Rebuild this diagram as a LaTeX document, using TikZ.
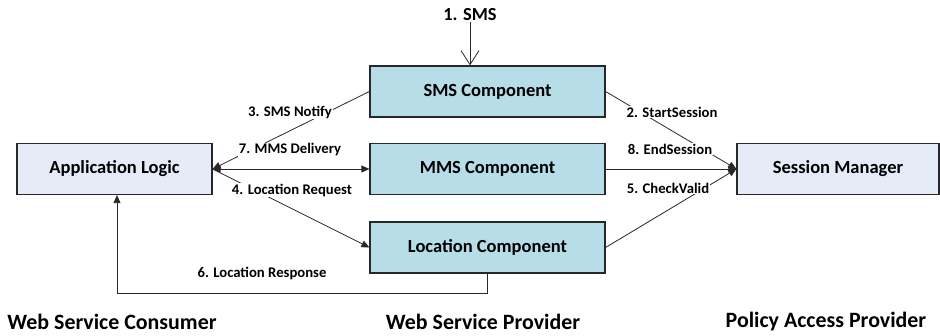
\documentclass[tikz,border=0pt]{standalone}
\usepackage{fontspec}
\setmainfont{Carlito}
\usetikzlibrary{arrows.meta}
\definecolor{compfill}{RGB}{183,221,232}
\definecolor{partyfill}{RGB}{230,236,247}
\definecolor{edgegray}{RGB}{40,40,40}
\tikzset{
  boxbase/.style={draw=edgegray, line width=1.2pt, minimum height=51pt, inner sep=0pt,
    font=\fontsize{18.5}{20}\selectfont\bfseries},
  compbox/.style={boxbase, fill=compfill, minimum width=235pt},
  partybox/.style={boxbase, fill=partyfill},
  msglabel/.style={fill=white, inner sep=1pt, font=\fontsize{14.7}{16}\selectfont\bfseries},
  rolelabel/.style={font=\fontsize{21.9}{24}\selectfont\bfseries},
  conn/.style={draw=edgegray, line width=0.8pt},
  tip/.style={-{Triangle[length=8pt,width=7pt]}},
}
\begin{document}
\begin{tikzpicture}[x=1pt, y=-1pt]
  \useasboundingbox (0,0) rectangle (940,336);

  % parties and components
  \node[partybox, minimum width=195pt] (app) at (114.5,169) {Application Logic};
  \node[compbox] (sms) at (487.5,91.5) {SMS Component};
  \node[compbox] (mms) at (487.5,169) {MMS Component};
  \node[compbox] (loc) at (487.5,247.5) {Location Component};
  \node[partybox, minimum width=202pt] (sess) at (838,169) {Session Manager};

  % incoming SMS
  \node[font=\fontsize{18.4}{20}\selectfont\bfseries, inner sep=1pt] (in) at (470,15) {1. SMS};
  \draw[conn, -{Straight Barb[length=14pt,width=18pt,line width=0.8pt]}] (in.south) -- (sms.north -| in.south);

  % component to application logic
  \draw[conn, tip] (sms.west) -- (app.east);
  \draw[conn, {Triangle[length=8pt,width=7pt]}-{Triangle[length=8pt,width=7pt]}] (app.east) -- (mms.west);
  \draw[conn, tip] (app.east) -- (loc.west);
  \coordinate (lr1) at ([yshift=-20pt]loc.south);
  \coordinate (lr2) at ([xshift=2.5pt]app.south);
  \draw[conn, tip] (loc.south) -- (lr1) -- (lr1 -| lr2) -- (lr2);

  % components to session manager
  \draw[conn, tip] (sms.east) -- (sess.west);
  \draw[conn, tip] (mms.east) -- (sess.west);
  \draw[conn, tip] (loc.east) -- (sess.west);

  % message labels
  \node[msglabel] (l3) at (290,112) {3. SMS Notify};
  \node[msglabel] (l7) at (290,150) {7. MMS Delivery};
  \node[msglabel] (l4) at (292,190) {4. Location Request};
  \node[msglabel] (l6) at (262,273) {6. Location Response};
  \node[msglabel] (l2) at (672,112) {2. StartSession};
  \node[msglabel] (l8) at (670,149) {8. EndSession};
  \node[msglabel] (l5) at (668,188) {5. CheckValid};

  % roles
  \node[rolelabel] (r1) at (112,322) {Web Service Consumer};
  \node[rolelabel] (r2) at (483,322) {Web Service Provider};
  \node[rolelabel] (r3) at (826,322) {Policy Access Provider};
\end{tikzpicture}
\end{document}
